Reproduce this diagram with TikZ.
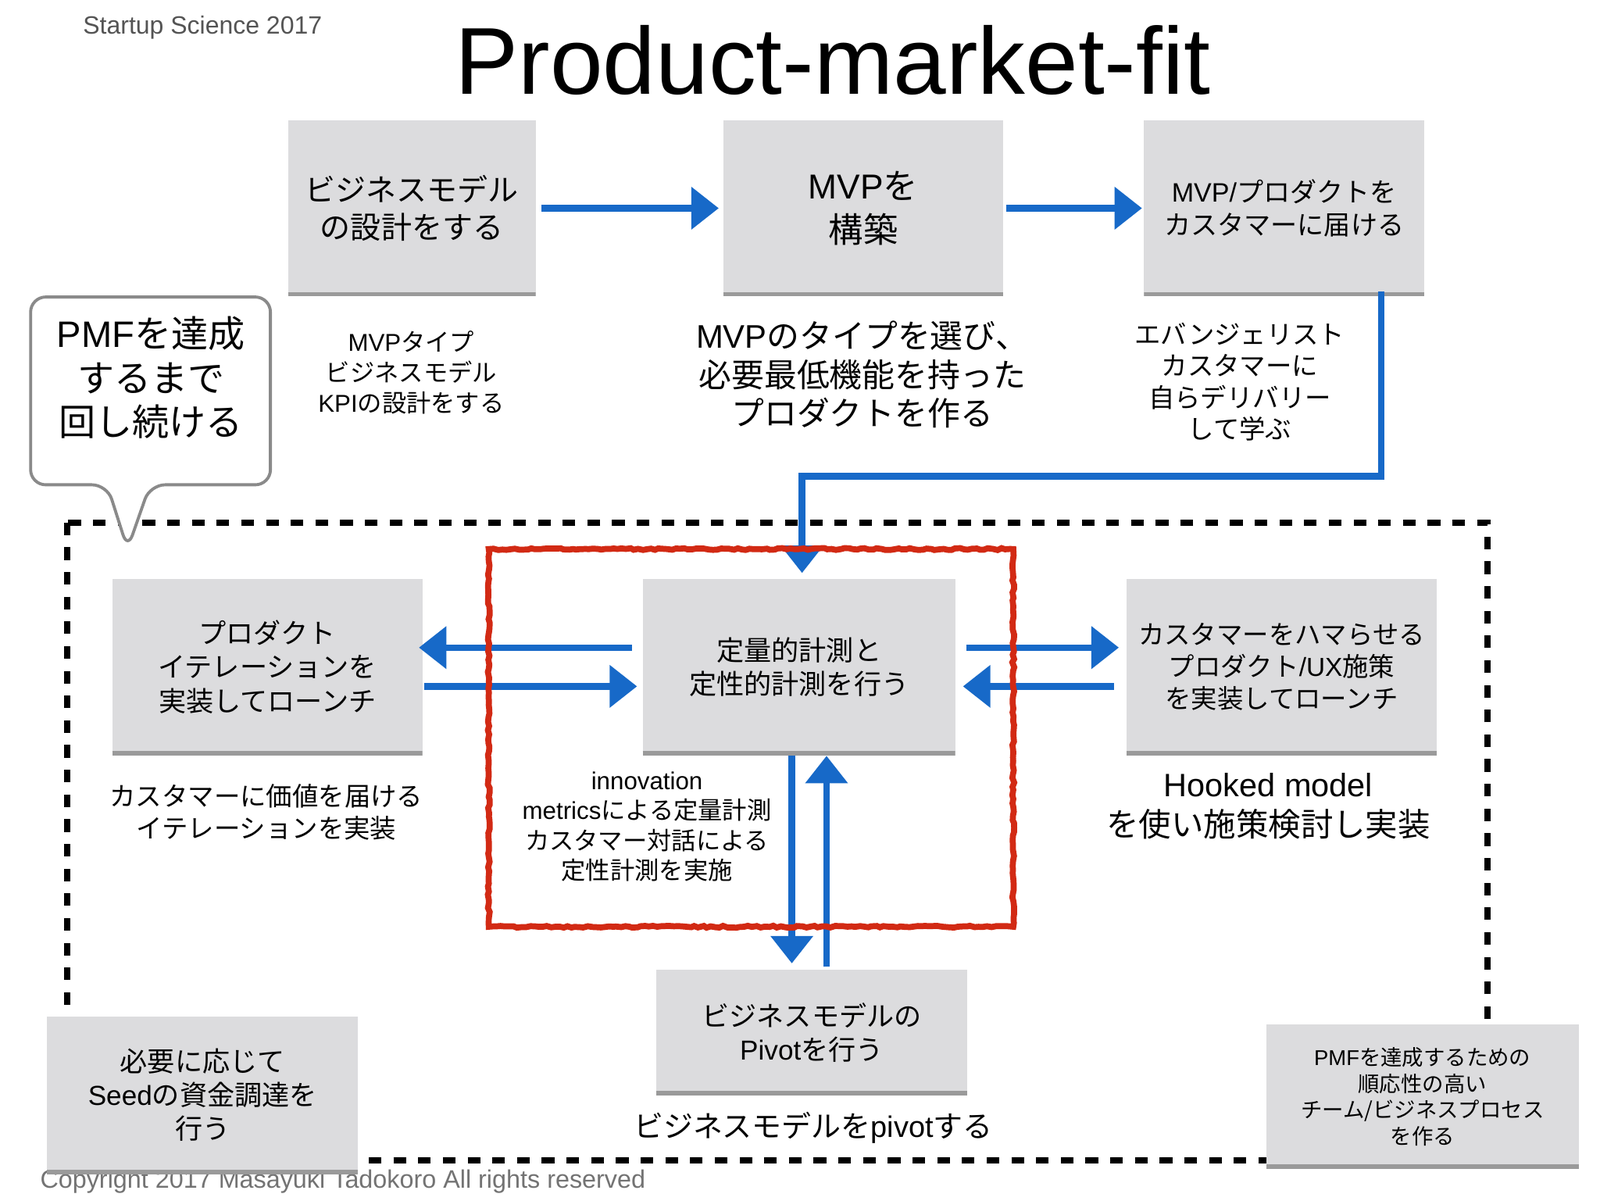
\documentclass[tikz,border=0pt]{standalone}
\usepackage{fontspec}
\setmainfont{Noto Sans CJK JP}
\newfontfamily\latin{Liberation Sans}
\usepackage{xcolor}
\usepackage{tikz}
\usetikzlibrary{arrows.meta,calc,decorations.pathmorphing}
\definecolor{boxgray}{HTML}{DCDCDE}
\definecolor{shadowgray}{HTML}{9A9A9A}
\definecolor{penblue}{HTML}{1769C8}
\definecolor{penred}{HTML}{D22A14}
\definecolor{bubblegray}{HTML}{8A8A8A}

\begin{document}
\begin{tikzpicture}[x=0.1306mm,y=-0.1306mm,
	pbox/.style={fill=boxgray,inner sep=0pt,align=center,path picture={\draw[shadowgray,line width=3pt] (path picture bounding box.south west) -- (path picture bounding box.south east);}},
	txt/.style={inner sep=0pt,align=center},
	bluepen/.style={penblue,line width=2.4pt,-{Triangle[width=15pt,length=10pt]}},
	redpen/.style={penred,line width=2.2pt,decoration={random steps,segment length=1.5pt,amplitude=0.35pt},decorate}]
	\fill[white] (0,0) rectangle (1568,1176);
	\useasboundingbox (0,0) rectangle (1568,1176);
	\node[txt,text=black!67,font=\latin\fontsize{9.1}{11}\selectfont] (brand) at (198.5,27) {Startup Science 2017};
	\node[txt,anchor=base,font=\latin\fontsize{34.6}{40}\selectfont] (title) at (816,92) {Product-market-fit};
	\node[txt,text=black!55,font=\latin\fontsize{9.2}{11}\selectfont] (copy) at (336,1158) {Copyright 2017 Masayuki Tadokoro All rights reserved};
	\draw[line width=2.2pt,dash pattern=on 4.6pt off 4.4pt] (66,512) rectangle (1458,1137);
	\draw[bubblegray,line width=1.1pt,fill=white,rounded corners=5.5pt] (105,475) -- (125,538) -- (147,475) -- (265,475) -- (265,291) -- (30,291) -- (30,475) -- cycle;
	\node[txt,font=\fontsize{13.4}{16}\selectfont] (goal) at (148,370) {{\latin PMF}を達成\\するまで\\回し続ける};
	\node[pbox,minimum width=31.7mm,minimum height=22.5mm,font=\fontsize{11.1}{13.4}\selectfont] (design) at (403.5,204) {ビジネスモデル\\の設計をする};
	\node[pbox,minimum width=35.8mm,minimum height=22.5mm,font=\fontsize{12.6}{16}\selectfont] (build) at (846,204) {{\latin MVP}を\\構築};
	\node[pbox,minimum width=35.9mm,minimum height=22.5mm,font=\fontsize{9.7}{11.9}\selectfont] (deliver) at (1258.5,204) {{\latin MVP/}プロダクトを\\カスタマーに届ける};
	\node[txt,font=\fontsize{8.9}{11.1}\selectfont] (designnote) at (403,365) {{\latin MVP}タイプ\\ビジネスモデル\\{\latin KPI}の設計をする};
	\node[txt,font=\fontsize{11.9}{14.1}\selectfont] (buildnote) at (845,367) {{\latin MVP}のタイプを選び、\\必要最低機能を持った\\プロダクトを作る};
	\node[txt,font=\fontsize{9.5}{11.5}\selectfont] (delivernote) at (1215,374) {エバンジェリスト\\カスタマーに\\自らデリバリー\\して学ぶ};
	\node[pbox,minimum width=39.7mm,minimum height=22.6mm,font=\fontsize{10}{12.3}\selectfont] (iter) at (262,653.5) {プロダクト\\イテレーションを\\実装してローンチ};
	\node[pbox,minimum width=40mm,minimum height=22.6mm,font=\fontsize{10}{12.3}\selectfont] (measure) at (783,653.5) {定量的計測と\\定性的計測を行う};
	\node[pbox,minimum width=39.7mm,minimum height=22.6mm,font=\fontsize{9.5}{11.7}\selectfont] (hook) at (1256,653.5) {カスタマーをハマらせる\\プロダクト{\latin /UX}施策\\を実装してローンチ};
	\node[txt,font=\fontsize{9.5}{11.7}\selectfont] (iternote) at (261,796) {カスタマーに価値を届ける\\イテレーションを実装};
	\node[txt,font=\fontsize{8.9}{10.9}\selectfont] (measurenote) at (634,810) {{\latin innovation}\\{\latin metrics}による定量計測\\カスタマー対話による\\定性計測を実施};
	\node[txt,font=\fontsize{11.8}{14.5}\selectfont] (hooknote) at (1243,790) {{\latin Hooked model}\\を使い施策検討し実装};
	\node[pbox,minimum width=39.8mm,minimum height=16.1mm,font=\fontsize{10}{12.3}\selectfont] (pivot) at (795.5,1011.5) {ビジネスモデルの\\{\latin Pivot}を行う};
	\node[txt,font=\fontsize{10.8}{13}\selectfont] (pivotnote) at (797,1105) {ビジネスモデルを{\latin pivot}する};
	\node[pbox,minimum width=39.8mm,minimum height=20.1mm,font=\fontsize{10}{12.2}\selectfont] (seed) at (198.5,1073) {必要に応じて\\{\latin Seed}の資金調達を\\行う};
	\node[pbox,minimum width=40mm,minimum height=18.4mm,font=\fontsize{7.8}{9.6}\selectfont] (team) at (1394,1074.5) {{\latin PMF}を達成するための\\順応性の高い\\チーム/ビジネスプロセス\\を作る};
	\draw[bluepen,shorten <=2pt,shorten >=1.5pt] (design.east) -- (build.west);
	\draw[bluepen,shorten <=1pt,shorten >=0.5pt] (build.east) -- (deliver.west);
	\draw[bluepen] ($(deliver.south east)+(-43,-5)$) -- ++(0,181) -| ($(measure.north)+(3,-5)$);
	\draw[bluepen] ($(measure.west)+(-10,-19)$) -- ($(iter.east)+(-4,-19)$);
	\draw[bluepen] ($(iter.east)+(1,19)$) -- ($(measure.west)+(-5,19)$);
	\draw[bluepen] ($(measure.east)+(10,-19)$) -- ($(hook.west)+(-7,-19)$);
	\draw[bluepen] ($(hook.west)+(-12,19)$) -- ($(measure.east)+(7,19)$);
	\coordinate (down) at ($(measure.south)+(-7,0)$);
	\coordinate (up) at ($(pivot.north)+(14.5,-2)$);
	\draw[bluepen,shorten >=2pt] (down) -- (down |- pivot.north);
	\draw[bluepen] (up) -- (up |- measure.south);
	\draw[redpen] (479,538) rectangle (993,908);
\end{tikzpicture}
\end{document}
